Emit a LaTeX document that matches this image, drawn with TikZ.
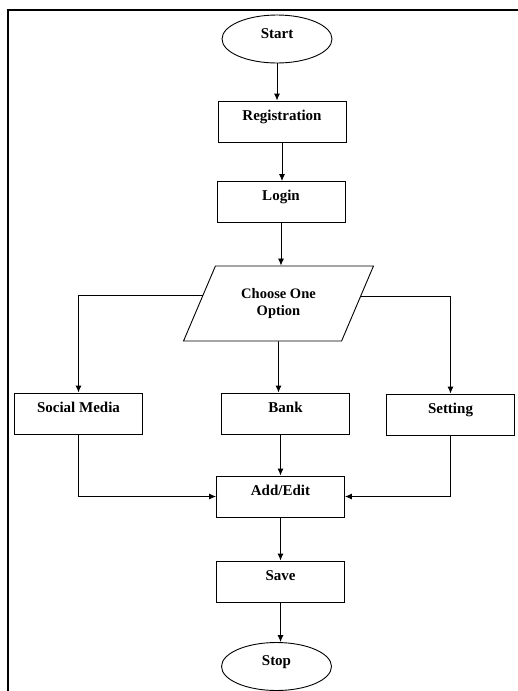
\documentclass[tikz,border=0pt]{standalone}
\usepackage{fontspec}
\setmainfont{Liberation Serif}
\usetikzlibrary{calc}
\usetikzlibrary{shapes}
\usetikzlibrary{arrows.meta}

\begin{document}
\begin{tikzpicture}[x=1pt, y=-1pt, >={Latex[length=7pt,width=6pt]},
		box/.style={rectangle, draw, line width=0.9pt, minimum width=128pt, inner sep=0pt, text height=19pt, text depth=22pt, font=\fontsize{15}{17}\selectfont\bfseries},
		term/.style={ellipse, draw, line width=0.9pt, minimum width=110pt, minimum height=48pt, inner sep=0pt, text height=9pt, text depth=11pt, font=\fontsize{15}{17}\selectfont\bfseries},
		io/.style={trapezium, trapezium left angle=58, trapezium right angle=122, trapezium stretches=true, draw, line width=0.9pt, minimum width=190pt, minimum height=75pt, inner sep=0pt, align=center, font=\fontsize{14.5}{17}\selectfont\bfseries},
		flow/.style={line width=0.9pt, ->}]
				\useasboundingbox (0,0) rectangle (517,691);
				\draw[line width=2.8pt] (8,695) -- (8,10) -- (520,10);
				
				\node[term] (start) at (277,39) {Start};
				\node[box] (reg) at (282,121.5) {Registration};
				\node[box] (login) at (281,202) {Login};
				\node[io] (choose) at (278.5,303.5) {Choose One\\Option};
				\node[box] (social) at (78.5,413.5) {Social Media};
				\node[box] (bank) at (285.5,413.5) {Bank};
				\node[box] (setting) at (450.5,414.5) {Setting};
				\node[box] (addedit) at (280.5,496.5) {Add/Edit};
				\node[box] (save) at (280.5,581.5) {Save};
				\node[term] (stop) at (276.5,666.5) {Stop};
				
				\coordinate (chl) at ($(choose.top left corner)!0.39!(choose.bottom left corner)$);
				\coordinate (chr) at ($(choose.top right corner)!0.41!(choose.bottom right corner)$);
				
				\draw[flow] (start) -- (start |- reg.north);
				\draw[flow] (reg) -- (reg |- login.north);
				\draw[flow] (login) -- (login |- choose.north);
				\draw[flow] (chl) -| (social);
				\draw[flow] (chr) -| (setting);
				\draw[flow] (choose) -- (choose |- bank.north);
				\draw[flow] (social) |- (addedit);
				\draw[flow] (setting) |- (addedit);
				\draw[flow] (bank.south -| addedit) -- (addedit);
				\draw[flow] (addedit) -- (addedit |- save.north);
				\draw[flow] (save) -- (save |- stop.north);
			\end{tikzpicture}
\end{document}
